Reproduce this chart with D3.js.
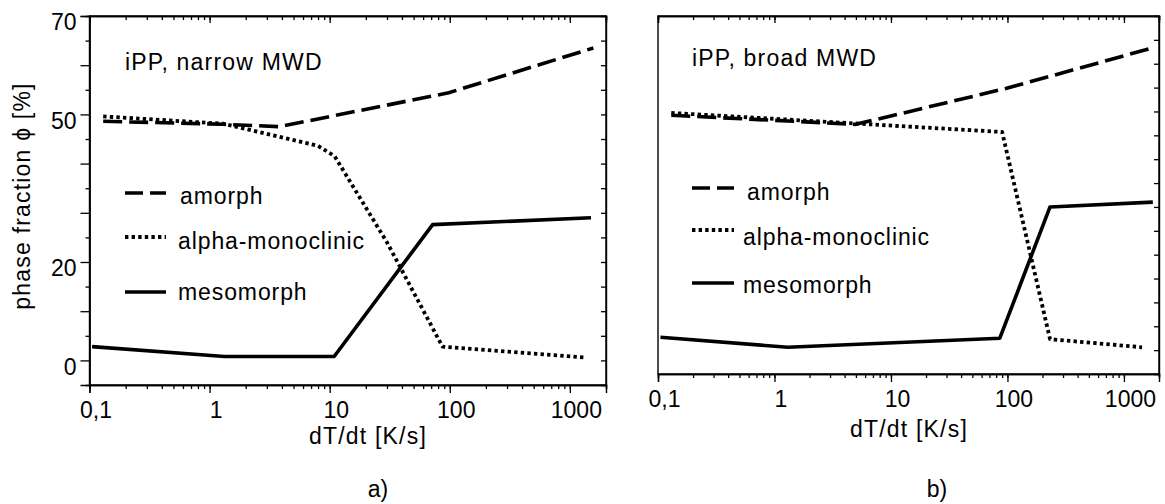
<!DOCTYPE html>
<html>
<head>
<meta charset="utf-8">
<script src="https://cdn.jsdelivr.net/npm/d3@7"></script>
<style>
  body { margin: 0; background: #fff; }
  text { font-family: "Liberation Sans", Arial, Helvetica, sans-serif; fill: #000; }
</style>
</head>
<body>
<div id="chart"></div>
<script>
// cooling rate dT/dt [K/s] and phase fractions [%]
const narrowAmorphX = [0.13, 1.3, 3.8, 98, 1570];
const narrowAmorph = [48.6, 48.0, 47.5, 54.4, 63.5];
const narrowAlphaX = [0.13, 1.3, 8, 11, 30, 87, 1350];
const narrowAlpha = [49.6, 48.1, 43.6, 41.5, 24, 2.8, 0.6];
const narrowMesoX = [0.105, 1.33, 10.9, 72, 1500];
const narrowMeso = [2.8, 0.8, 0.8, 27.6, 29.0];

const broadAmorphX = [0.13, 1.3, 5, 100, 1750];
const broadAmorph = [49.2, 48.0, 47.3, 54.9, 63.3];
const broadAlphaX = [0.13, 1.3, 90, 232, 1430];
const broadAlpha = [49.7, 48.3, 45.7, 2.3, 0.6];
const broadMesoX = [0.105, 1.3, 86, 232, 1770];
const broadMeso = [2.7, 0.6, 2.5, 30, 31];

const phases = ["amorph", "alpha-monoclinic", "mesomorph"];
const xTickLabels = ["0,1", "1", "10", "100", "1000"];
const xDecades = [0.1, 1, 10, 100, 1000];
const yTickLabels = [0, 20, 50, 70];

const width = 1165;
const height = 504;
const font = 23;

const svg = d3.select("#chart").append("svg")
  .attr("width", width)
  .attr("height", height)
  .style("background", "#fff");

const dashes = { "amorph": "19,7", "alpha-monoclinic": "3.4,3.2", "mesomorph": null };
const widths = { "amorph": 3.6, "alpha-monoclinic": 3.8, "mesomorph": 3.6 };

// all log ticks 1..9 per decade
const logTicks = [];
xDecades.forEach(d => { for (let k = 1; k <= 9; k++) if (d * k <= 2000) logTicks.push(d * k); });
const yTicks = d3.range(-5, 71, 5).filter(v => v > -5 && v < 70);

function panel(p) {
  const x = d3.scaleLog().domain([0.1, 2000]).range([p.left, p.right]);
  const y = d3.scaleLinear().domain([-5, 70]).range([p.bottom, p.top]);
  const g = svg.append("g");

  const line = d3.line().x(d => x(d[0])).y(d => y(d[1]));

  // frame
  g.append("rect")
    .attr("x", p.left).attr("y", p.top)
    .attr("width", p.right - p.left).attr("height", p.bottom - p.top)
    .attr("fill", "none").attr("stroke", "#000").attr("stroke-width", 1.4);

  // bottom axis: minor and major ticks outward
  g.append("g").attr("transform", `translate(0,${p.bottom})`)
    .call(d3.axisBottom(x).tickValues(logTicks).tickSize(4).tickFormat(""));
  const majorB = g.append("g").attr("transform", `translate(0,${p.bottom})`)
    .call(d3.axisBottom(x).tickValues(xDecades).tickSize(8).tickPadding(9)
      .tickFormat((d, i) => xTickLabels[i]));
  majorB.selectAll("text").attr("font-size", font).attr("dx", 6)
    .style("font-family", "'Liberation Sans', Arial, sans-serif");

  // top axis: ticks inward
  g.append("g").attr("transform", `translate(0,${p.top})`)
    .call(d3.axisTop(x).tickValues(logTicks).tickSize(-4).tickFormat(""));
  g.append("g").attr("transform", `translate(0,${p.top})`)
    .call(d3.axisTop(x).tickValues(xDecades).tickSize(-7).tickFormat(""));

  // right axis: ticks inward
  g.append("g").attr("transform", `translate(${p.right},0)`)
    .call(d3.axisRight(y).tickValues(yTicks).tickSize(-5).tickFormat(""));

  if (p.leftAxis) {
    g.append("g").attr("transform", `translate(${p.left},0)`)
      .call(d3.axisLeft(y).tickValues(yTicks.filter(v => v % 10 !== 0)).tickSize(4).tickFormat(""));
    const ly = g.append("g").attr("transform", `translate(${p.left},0)`)
      .call(d3.axisLeft(y).tickValues(yTicks.filter(v => v % 10 === 0).concat([70]))
        .tickSize(9).tickPadding(4)
        .tickFormat(d => yTickLabels.includes(d) ? d : ""));
    ly.selectAll("text").attr("font-size", font).attr("dy", "0.6em")
      .style("font-family", "'Liberation Sans', Arial, sans-serif");
  }

  g.selectAll(".domain").attr("stroke-width", 1.4);
  g.selectAll(".tick line").attr("stroke-width", 1.3);

  // series
  p.series.forEach(s => {
    g.append("path")
      .datum(s.xs.map((v, j) => [v, s.ys[j]]))
      .attr("d", line)
      .attr("fill", "none")
      .attr("stroke", "#000")
      .attr("stroke-width", widths[s.name])
      .attr("stroke-dasharray", dashes[s.name])
      .attr("stroke-linejoin", "round");
  });

  // panel title
  g.append("text").attr("x", p.titleX).attr("y", p.titleY)
    .attr("font-size", font).attr("letter-spacing", 1.2).text(p.title);

  // legend
  phases.forEach((name, i) => {
    const lg = p.legend[i];
    g.append("line")
      .attr("x1", p.legX1).attr("x2", p.legX2)
      .attr("y1", lg.line).attr("y2", lg.line)
      .attr("stroke", "#000")
      .attr("stroke-width", widths[name])
      .attr("stroke-dasharray", name === "amorph" ? "18,7" : dashes[name]);
    g.append("text").attr("x", lg.tx).attr("y", lg.ty)
      .attr("font-size", font).attr("letter-spacing", 0.9).text(name);
  });

  // x axis title and panel letter
  g.append("text").attr("x", p.xTitleX).attr("y", p.xTitleY)
    .attr("text-anchor", "middle").attr("font-size", font).attr("letter-spacing", 1.2)
    .text("dT/dt [K/s]");
  g.append("text").attr("x", p.letterX).attr("y", 497)
    .attr("text-anchor", "middle").attr("font-size", font).text(p.letter);
}

panel({
  left: 89.5, right: 606, top: 16, bottom: 385, leftAxis: true,
  title: "iPP, narrow MWD", titleX: 125, titleY: 70,
  legX1: 125, legX2: 166,
  legend: [{ line: 193, tx: 180, ty: 204 }, { line: 237, tx: 178, ty: 249 }, { line: 292, tx: 178, ty: 300 }],
  xTitleX: 368, xTitleY: 444, letter: "a)", letterX: 378,
  series: [
    { name: "amorph", xs: narrowAmorphX, ys: narrowAmorph },
    { name: "alpha-monoclinic", xs: narrowAlphaX, ys: narrowAlpha },
    { name: "mesomorph", xs: narrowMesoX, ys: narrowMeso }
  ]
});

panel({
  left: 658, right: 1159, top: 16, bottom: 374, leftAxis: false,
  title: "iPP, broad MWD", titleX: 692, titleY: 66,
  legX1: 692, legX2: 734,
  legend: [{ line: 188, tx: 747, ty: 200 }, { line: 230, tx: 743, ty: 245 }, { line: 283, tx: 743, ty: 293 }],
  xTitleX: 909, xTitleY: 437, letter: "b)", letterX: 937,
  series: [
    { name: "amorph", xs: broadAmorphX, ys: broadAmorph },
    { name: "alpha-monoclinic", xs: broadAlphaX, ys: broadAlpha },
    { name: "mesomorph", xs: broadMesoX, ys: broadMeso }
  ]
});

// y axis title
svg.append("text")
  .attr("transform", "translate(30,196) rotate(-90)")
  .attr("text-anchor", "middle").attr("font-size", font).attr("letter-spacing", 1.2)
  .text("phase fraction ϕ [%]");
</script>
</body>
</html>
